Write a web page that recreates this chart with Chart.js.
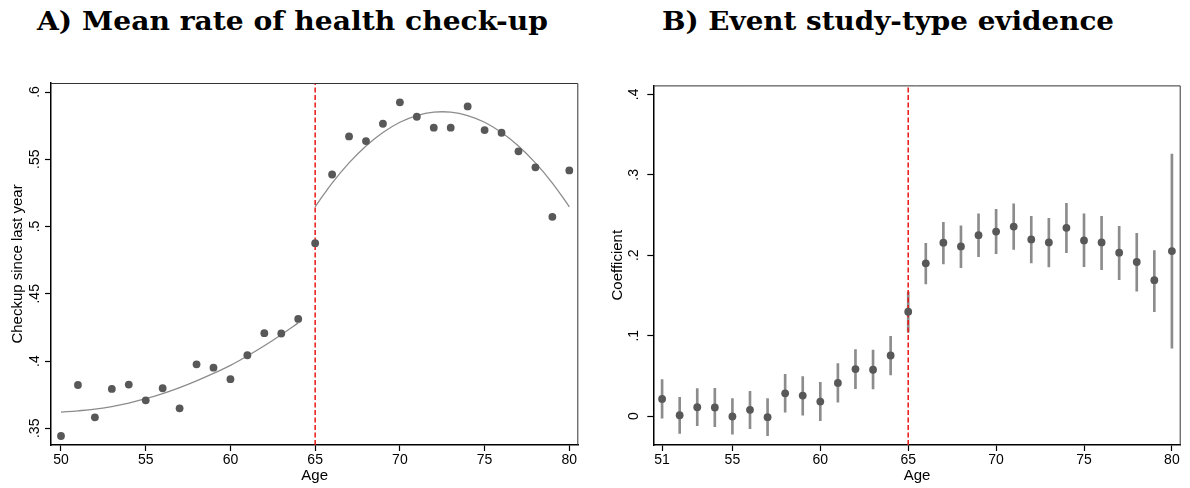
<!DOCTYPE html>
<html>
<head>
<meta charset="utf-8">
<script src="https://cdn.jsdelivr.net/npm/chart.js@4.4.1/dist/chart.umd.min.js"></script>
<style>
  html, body { margin: 0; padding: 0; background: #fff; }
  #wrap { position: relative; width: 1190px; height: 488px; overflow: hidden; }
  .ttl {
    position: absolute; top: 8px; color: #000;
    font-family: "DejaVu Serif", serif; font-weight: bold;
    font-size: 26px; line-height: 26px; white-space: nowrap;
    transform-origin: 0 0;
  }
  canvas { position: absolute; top: 70px; }
</style>
</head>
<body>
<div id="wrap">
  <div class="ttl" id="titleA" style="left:37px" data-w="511">A) Mean rate of health check-up</div>
  <div class="ttl" id="titleB" style="left:662px" data-w="452">B) Event study-type evidence</div>
  <canvas id="chartA" width="595" height="418" style="left:0"></canvas>
  <canvas id="chartB" width="595" height="418" style="left:595px"></canvas>
</div>
<script>
// ---- Panel A: mean check-up rate by age ----
const ageA = [50, 51, 52, 53, 54, 55, 56, 57, 58, 59, 60, 61, 62, 63, 64, 65,
  66, 67, 68, 69, 70, 71, 72, 73, 74, 75, 76, 77, 78, 79, 80];
const rateA = [0.3443, 0.3822, 0.3582, 0.3793, 0.3825, 0.3708, 0.3798, 0.3649,
  0.3976, 0.3951, 0.3865, 0.4043, 0.4207, 0.4205, 0.4313, 0.4876,
  0.5387, 0.5670, 0.5635, 0.5764, 0.5923, 0.5816, 0.5735, 0.5735,
  0.5893, 0.5717, 0.5697, 0.5559, 0.5440, 0.5072, 0.5417];
// quadratic fit
const fitAgeLeft = [50, 51, 52, 53, 54, 55, 56, 57, 58, 59, 60, 61, 62, 63, 64];
const fitLeft = [0.3621, 0.3630, 0.3642, 0.3662, 0.3688, 0.3720, 0.3758, 0.3803,
  0.3853, 0.3908, 0.3968, 0.4038, 0.4114, 0.4196, 0.4284];
const fitAgeRight = [65, 66, 67, 68, 69, 70, 71, 72, 73, 74, 75, 76, 77, 78, 79, 80];
const fitRight = [0.5147, 0.5323, 0.5473, 0.5599, 0.5699, 0.5775, 0.5825, 0.5850,
  0.5850, 0.5825, 0.5775, 0.5699, 0.5599, 0.5473, 0.5323, 0.5147];
const xTicksA = [50, 55, 60, 65, 70, 75, 80];
const yTicksA = [0.35, 0.4, 0.45, 0.5, 0.55, 0.6];
const yLabelsA = [".35", ".4", ".45", ".5", ".55", ".6"];

// ---- Panel B: event study coefficients ----
const ageB = [51, 52, 53, 54, 55, 56, 57, 58, 59, 60, 61, 62, 63, 64, 65,
  66, 67, 68, 69, 70, 71, 72, 73, 74, 75, 76, 77, 78, 79, 80];
const coefB = [0.0215, 0.0012, 0.0111, 0.0108, -0.0004, 0.0079, -0.0012, 0.0284,
  0.0256, 0.0182, 0.0413, 0.0586, 0.0577, 0.0754, 0.1298,
  0.1900, 0.2156, 0.2110, 0.2250, 0.2295, 0.2357, 0.2197, 0.2159,
  0.2341, 0.2184, 0.2159, 0.2032, 0.1916, 0.1690, 0.2052];
const ciLowB = [-0.0025, -0.0214, -0.0119, -0.0131, -0.0222, -0.0156, -0.0243, 0.0049,
  0.0012, -0.0057, 0.0173, 0.0342, 0.0339, 0.0512, 0.1043,
  0.1644, 0.1891, 0.1847, 0.1983, 0.2020, 0.2073, 0.1904, 0.1854,
  0.2032, 0.1859, 0.1822, 0.1698, 0.1554, 0.1298, 0.0845];
const ciHighB = [0.0454, 0.0235, 0.0342, 0.0346, 0.0219, 0.0309, 0.0219, 0.0519,
  0.0491, 0.0420, 0.0655, 0.0828, 0.0821, 0.0994, 0.1545,
  0.2147, 0.2410, 0.2366, 0.2514, 0.2571, 0.2638, 0.2485, 0.2460,
  0.2645, 0.2514, 0.2485, 0.2361, 0.2274, 0.2057, 0.3256];
const xTicksB = [51, 55, 60, 65, 70, 75, 80];
const yTicksB = [0, 0.1, 0.2, 0.3, 0.4];
const yLabelsB = ["0", ".1", ".2", ".3", ".4"];

const cutoffAge = 65;

// stretch the titles to the width they have in the original
document.querySelectorAll(".ttl").forEach(function (el) {
  const w = el.getBoundingClientRect().width;
  el.style.transform = "scaleX(" + (Number(el.dataset.w) / w) + ")";
});

const FONT = "'Liberation Sans', Arial, sans-serif";
const MARK = "rgb(88,88,88)";
const LIGHT = "rgb(140,140,140)";
const RED = "rgb(235,20,20)";

// plot region outline (top and right edges)
const frame = {
  id: "frame",
  afterDraw(chart) {
    const a = chart.chartArea;
    const ctx = chart.ctx;
    ctx.save();
    ctx.strokeStyle = "#333";
    ctx.lineWidth = 1;
    ctx.beginPath();
    ctx.moveTo(a.left, a.top + 0.5);
    ctx.lineTo(a.right - 0.5, a.top + 0.5);
    ctx.lineTo(a.right - 0.5, a.bottom);
    ctx.stroke();
    ctx.restore();
  }
};

function makeOptions(o) {
  return {
    responsive: false,
    animation: false,
    layout: { padding: { top: 13, right: o.padRight, left: 0, bottom: 0 } },
    plugins: { legend: { display: false }, tooltip: { enabled: false } },
    scales: {
      x: {
        type: "linear",
        min: o.xMin,
        max: o.xMax,
        offset: false,
        afterBuildTicks: function (s) { s.ticks = o.xTicks.map(v => ({ value: v })); },
        afterFit: function (s) { s.height = 43; },
        grid: { offset: false, drawOnChartArea: false, drawTicks: true, tickLength: 6, tickColor: "#000", tickWidth: 1.2 },
        border: { color: "#000", width: 1.5 },
        ticks: { autoSkip: false, maxRotation: 0, padding: 1, color: "#000", font: { family: FONT, size: 14 } },
        title: { display: true, text: "Age", color: "#000", font: { family: FONT, size: 15 }, padding: { top: 0, bottom: 3 } }
      },
      y: {
        type: "linear",
        min: o.yMin,
        max: o.yMax,
        afterBuildTicks: function (s) { s.ticks = o.yTicks.map(v => ({ value: v })); },
        afterFit: function (s) { s.width = o.yWidth; },
        grid: { drawOnChartArea: false, drawTicks: true, tickLength: 6, tickColor: "#000", tickWidth: 1.2 },
        border: { color: "#000", width: 1.5 },
        ticks: {
          autoSkip: false, minRotation: 90, maxRotation: 90, crossAlign: "center",
          padding: o.yTickPad, color: "#000", font: { family: FONT, size: 14 },
          callback: function (v, i) { return o.yLabels[i]; }
        },
        title: { display: true, text: o.yTitle, color: "#000", font: { family: FONT, size: 15 }, padding: { top: o.yTitlePad, bottom: 0 } }
      }
    }
  };
}

// cutoff line spans the whole plot height
function cutoffData(yMin, yMax) {
  return [{ x: cutoffAge, y: yMin }, { x: cutoffAge, y: yMax }];
}

// ---- chart A ----
const yMinA = 0.3376, yMaxA = 0.6067;
new Chart(document.getElementById("chartA"), {
  type: "scatter",
  data: {
    datasets: [
      {
        data: ageA.map((a, i) => ({ x: a, y: rateA[i] })),
        pointRadius: 3.9, pointBackgroundColor: MARK, pointBorderWidth: 0, order: 0
      },
      {
        type: "line",
        data: cutoffData(yMinA, yMaxA),
        borderColor: RED, borderWidth: 1.5, borderDash: [5, 2.5], pointRadius: 0, order: 1
      },
      {
        type: "line",
        data: fitAgeLeft.map((a, i) => ({ x: a, y: fitLeft[i] })),
        borderColor: LIGHT, borderWidth: 1.3, pointRadius: 0, tension: 0.4, order: 2
      },
      {
        type: "line",
        data: fitAgeRight.map((a, i) => ({ x: a, y: fitRight[i] })),
        borderColor: LIGHT, borderWidth: 1.3, pointRadius: 0, tension: 0.4, order: 2
      }
    ]
  },
  options: makeOptions({
    xMin: 49.41, xMax: 80.53, xTicks: xTicksA,
    yMin: yMinA, yMax: yMaxA, yTicks: yTicksA, yLabels: yLabelsA,
    yTitle: "Checkup since last year", yWidth: 51, yTitlePad: 8.5, yTickPad: 0, padRight: 16.7
  }),
  plugins: [frame]
});

// ---- chart B ----
const yMinB = -0.0358, yMaxB = 0.4111;
new Chart(document.getElementById("chartB"), {
  type: "scatter",
  data: {
    datasets: [
      {
        data: ageB.map((a, i) => ({ x: a, y: coefB[i] })),
        pointRadius: 3.9, pointBackgroundColor: MARK, pointBorderWidth: 0, order: 0
      },
      {
        type: "line",
        data: cutoffData(yMinB, yMaxB),
        borderColor: RED, borderWidth: 1.5, borderDash: [5, 2.5], pointRadius: 0, order: 1
      },
      {
        type: "bar",
        data: ageB.map((a, i) => ({ x: a, y: [ciLowB[i], ciHighB[i]] })),
        backgroundColor: LIGHT, borderWidth: 0, barThickness: 2, order: 2
      }
    ]
  },
  options: makeOptions({
    xMin: 50.5, xMax: 80.5, xTicks: xTicksB,
    yMin: yMinB, yMax: yMaxB, yTicks: yTicksB, yLabels: yLabelsB,
    yTitle: "Coefficient", yWidth: 58.3, yTitlePad: 13.5, yTickPad: 7, padRight: 9.3
  }),
  plugins: [frame]
});
</script>
</body>
</html>
